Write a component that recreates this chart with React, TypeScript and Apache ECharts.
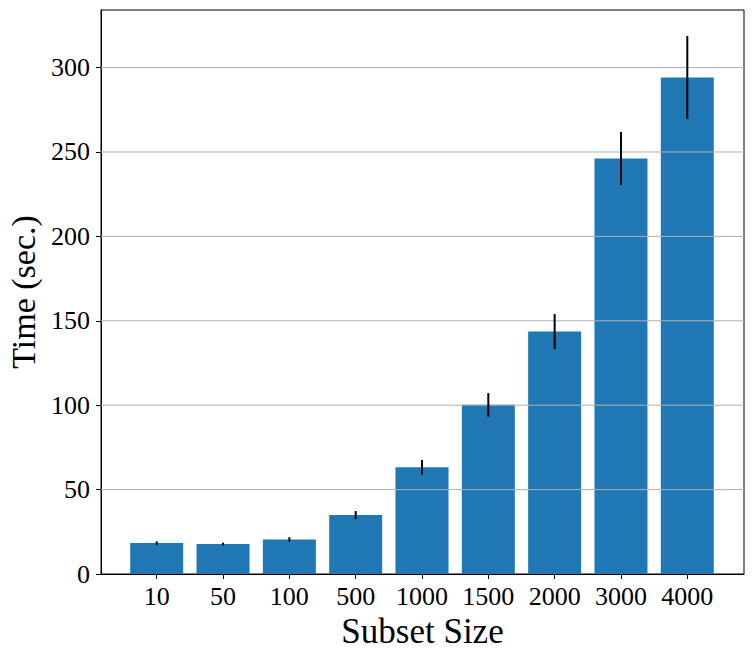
import React, { useEffect, useRef } from "react";
import * as echarts from "echarts";

const categories = ["10", "50", "100", "500", "1000", "1500", "2000", "3000", "4000"];
const meanTimes = [18.3, 17.8, 20.5, 34.9, 63.3, 100.2, 143.6, 246.2, 294.1];
const errTimes = [1.0, 0.8, 1.3, 2.4, 4.3, 7.0, 10.4, 15.7, 24.6];
const yTicks = [0, 50, 100, 150, 200, 250, 300];
const gridTicks = [50, 100, 150, 200, 250, 300];

const FONT = "'Liberation Serif', 'DejaVu Serif', serif";

export default function App() {
  const ref = useRef<HTMLDivElement>(null);
  useEffect(() => {
    if (!ref.current) return;
    const chart = echarts.init(ref.current, undefined, { renderer: "svg" });
    const idx = categories.map((_, i) => i);
    chart.setOption({
      animation: false,
      backgroundColor: "#ffffff",
      grid: {
        left: 101,
        right: 9,
        top: 10,
        bottom: 84,
        containLabel: false,
        outerBoundsMode: "none",
        show: true,
        borderColor: "#000000",
        borderWidth: 1,
        backgroundColor: "transparent",
      },
      xAxis: {
        type: "value",
        min: -0.84,
        max: 8.855,
        name: "Subset Size",
        nameLocation: "middle",
        nameGap: 38,
        nameTextStyle: { fontFamily: FONT, fontSize: 35, color: "#000" },
        axisLine: { show: true, onZero: false, lineStyle: { color: "#000", width: 1 } },
        axisTick: { show: true, customValues: idx, length: 5, lineStyle: { color: "#000" } },
        axisLabel: {
          customValues: idx,
          formatter: (v: number) => categories[Math.round(v)] ?? "",
          fontFamily: FONT,
          fontSize: 26,
          color: "#000",
          margin: 9,
        },
        splitLine: { show: false },
      },
      yAxis: {
        type: "value",
        min: 0,
        max: 334.1,
        interval: 50,
        name: "Time (sec.)",
        nameLocation: "middle",
        nameGap: 61,
        nameTextStyle: { fontFamily: FONT, fontSize: 34, color: "#000" },
        axisLine: { show: true, onZero: false, lineStyle: { color: "#000", width: 1 } },
        axisTick: { show: true, customValues: yTicks, length: 5, lineStyle: { color: "#000" } },
        axisLabel: {
          customValues: yTicks,
          fontFamily: FONT,
          fontSize: 26,
          color: "#000",
          margin: 11,
        },
        splitLine: { show: false },
      },
      series: [
        {
          type: "bar",
          data: meanTimes.map((v, i) => [i, v]),
          barWidth: 53,
          itemStyle: { color: "#1f77b4" },
          z: 2,
        },
        {
          type: "custom",
          z: 4,
          silent: true,
          data: gridTicks.map((t) => [t]),
          encode: { y: 0 },
          renderItem: (params: any, api: any) => {
            const cs = params.coordSys;
            const p = api.coord([0, api.value(0)]);
            return {
              type: "line",
              shape: { x1: cs.x, y1: p[1], x2: cs.x + cs.width, y2: p[1] },
              style: { stroke: "#b0b0b0", lineWidth: 1 },
            };
          },
        },
        {
          type: "custom",
          z: 5,
          silent: true,
          data: meanTimes.map((v, i) => [i, v - errTimes[i], v + errTimes[i]]),
          encode: { x: 0, y: [1, 2] },
          renderItem: (params: any, api: any) => {
            const x = api.value(0);
            const lo = api.coord([x, api.value(1)]);
            const hi = api.coord([x, api.value(2)]);
            return {
              type: "line",
              shape: { x1: lo[0], y1: lo[1], x2: hi[0], y2: hi[1] },
              style: { stroke: "#000", lineWidth: 2 },
            };
          },
        },
      ],
    });
    return () => chart.dispose();
  }, []);
  return <div ref={ref} style={{ width: 753, height: 658, margin: -8 }} />;
}
